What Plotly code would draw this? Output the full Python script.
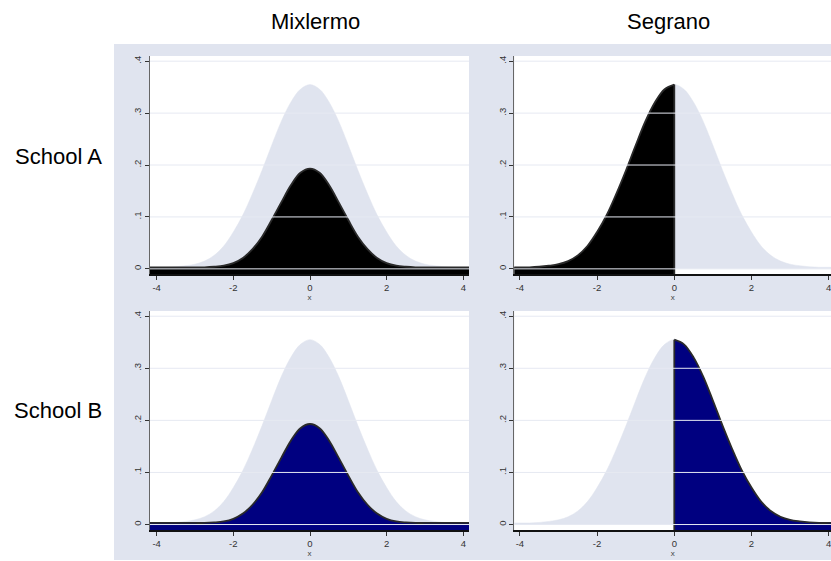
import plotly.graph_objects as go

# ---- data ----
x_grid = [-4.25, -4.0, -3.75, -3.5, -3.25, -3.0, -2.75, -2.5, -2.25, -2.0, -1.75, -1.5,
          -1.25, -1.0, -0.75, -0.5, -0.25, 0.0, 0.25, 0.5, 0.75, 1.0, 1.25, 1.5,
          1.75, 2.0, 2.25, 2.5, 2.75, 3.0, 3.25, 3.5, 3.75, 4.0, 4.25]
light_density = [0.003, 0.003, 0.003, 0.004, 0.006, 0.009, 0.015, 0.026, 0.044, 0.071, 0.104, 0.145,
                 0.190, 0.238, 0.284, 0.321, 0.346, 0.355, 0.346, 0.321, 0.284, 0.238, 0.190, 0.145,
                 0.104, 0.071, 0.044, 0.026, 0.015, 0.009, 0.006, 0.004, 0.003, 0.003, 0.003]
inner_density = [0.003, 0.003, 0.003, 0.003, 0.003, 0.003, 0.003, 0.004, 0.006, 0.011, 0.021, 0.038,
                 0.062, 0.094, 0.128, 0.161, 0.185, 0.193, 0.185, 0.161, 0.128, 0.094, 0.062, 0.038,
                 0.021, 0.011, 0.006, 0.004, 0.003, 0.003, 0.003, 0.003, 0.003, 0.003, 0.003]
col_titles = ["Mixlermo", "Segrano"]
row_titles = ["School A", "School B"]
row_fill_colors = ["#000000", "#000080"]
x_tick_vals = [-4, -2, 0, 2, 4]
x_tick_text = ["-4", "-2", "0", "2", "4"]
y_tick_vals = [0, 0.1, 0.2, 0.3, 0.4]
y_tick_text = ["0", ".1", ".2", ".3", ".4"]

# ---- style / layout ----
W, H = 831, 561
LIGHT = "#e0e4ef"
GRID = "#e6e9f2"
OUTLINE = "#2a2a2a"
FONT = "Liberation Sans, Arial, sans-serif"
BASE = -0.03

x_domains = [[150 / W, 469 / W], [514.3 / W, 1.0]]
x_ranges = [[-4.174, 4.148], [-4.145, 4.06]]
y_domains = [[1 - 274.3 / H, 1 - 56 / H], [1 - 530 / H, 1 - 311 / H]]
y_range = [-0.0105, 0.41]

fig = go.Figure()
layout_axes = {}
shapes = [dict(type="rect", xref="paper", yref="paper", x0=114 / W, x1=1.0,
               y0=1 / H, y1=1 - 44 / H, fillcolor=LIGHT, line=dict(width=0), layer="below")]

for r in range(2):
    for c in range(2):
        k = r * 2 + c + 1
        xa = "x" if k == 1 else f"x{k}"
        ya = "y" if k == 1 else f"y{k}"
        common = dict(xaxis=xa, yaxis=ya, hoverinfo="skip", showlegend=False)

        # white plot area over the tinted graph region
        shapes.append(dict(type="rect", xref=f"{xa} domain", yref=f"{ya} domain",
                           x0=0, x1=1, y0=0, y1=1, fillcolor="white",
                           line=dict(width=0), layer="below"))

        fig.add_trace(go.Scatter(x=x_grid, y=light_density, mode="lines",
                                 line=dict(color=LIGHT, width=0.5, shape="spline"),
                                 fill="tozeroy", fillcolor=LIGHT, **common))
        if c == 0:
            sx, sy = x_grid, inner_density
        else:
            idx = [i for i, v in enumerate(x_grid) if (v <= 0 if r == 0 else v >= 0)]
            sx = [x_grid[i] for i in idx]
            sy = [light_density[i] for i in idx]
        fig.add_trace(go.Scatter(x=sx, y=[BASE] * len(sx), mode="lines",
                                 line=dict(width=0, color=row_fill_colors[r]), **common))
        fig.add_trace(go.Scatter(x=sx, y=sy, mode="lines",
                                 line=dict(color=OUTLINE, width=1.8, shape="spline"),
                                 fill="tonexty", fillcolor=row_fill_colors[r], **common))
        if c == 1:
            j = x_grid.index(0.0)
            fig.add_trace(go.Scatter(x=[0, 0], y=[BASE, light_density[j]], mode="lines",
                                     line=dict(color=OUTLINE, width=1.8), **common))

        axname = "xaxis" if k == 1 else f"xaxis{k}"
        ayname = "yaxis" if k == 1 else f"yaxis{k}"
        layout_axes[axname] = dict(
            domain=x_domains[c], range=x_ranges[c], anchor=ya,
            tickvals=x_tick_vals, ticktext=x_tick_text,
            ticks="outside", ticklen=4, tickcolor="#333", tickwidth=1,
            showline=True, linecolor="#111", linewidth=1.5,
            showgrid=False, zeroline=False, ticklabeloverflow="allow",
            tickfont=dict(size=9.5, color="#333", family=FONT),
            title=dict(text="x", standoff=0, font=dict(size=8, color="#444", family=FONT)),
            fixedrange=True,
        )
        layout_axes[ayname] = dict(
            domain=y_domains[r], range=y_range, anchor=xa,
            tickvals=y_tick_vals, ticktext=y_tick_text, tickangle=-90,
            ticks="outside", ticklen=4, tickcolor="#333", tickwidth=1,
            showline=True, linecolor="#666", linewidth=1,
            showgrid=False, zeroline=False,
            tickfont=dict(size=9.5, color="#333", family=FONT),
            fixedrange=True,
        )
        for yv in y_tick_vals:
            shapes.append(dict(type="line", xref=f"{xa} domain", yref=ya,
                               x0=0, x1=1, y0=yv, y1=yv,
                               line=dict(color=GRID, width=1), layer="above"))

annotations = []
col_centers = [315 / W, 668 / W]
for c, t in enumerate(col_titles):
    annotations.append(dict(text=t, x=col_centers[c], y=1 - 22 / H, xref="paper", yref="paper",
                            showarrow=False, xanchor="center", yanchor="middle",
                            font=dict(size=22, color="#000", family=FONT)))
row_centers = [1 - 156 / H, 1 - 410 / H]
for r, t in enumerate(row_titles):
    annotations.append(dict(text=t, x=58 / W, y=row_centers[r], xref="paper", yref="paper",
                            showarrow=False, xanchor="center", yanchor="middle",
                            font=dict(size=22, color="#000", family=FONT)))

fig.update_layout(
    width=W, height=H, margin=dict(l=0, r=0, t=0, b=0),
    paper_bgcolor="white", plot_bgcolor="white",
    shapes=shapes, annotations=annotations, showlegend=False,
    font=dict(family=FONT),
    **layout_axes,
)

fig.write_html("out.html", config={"displayModeBar": False})
